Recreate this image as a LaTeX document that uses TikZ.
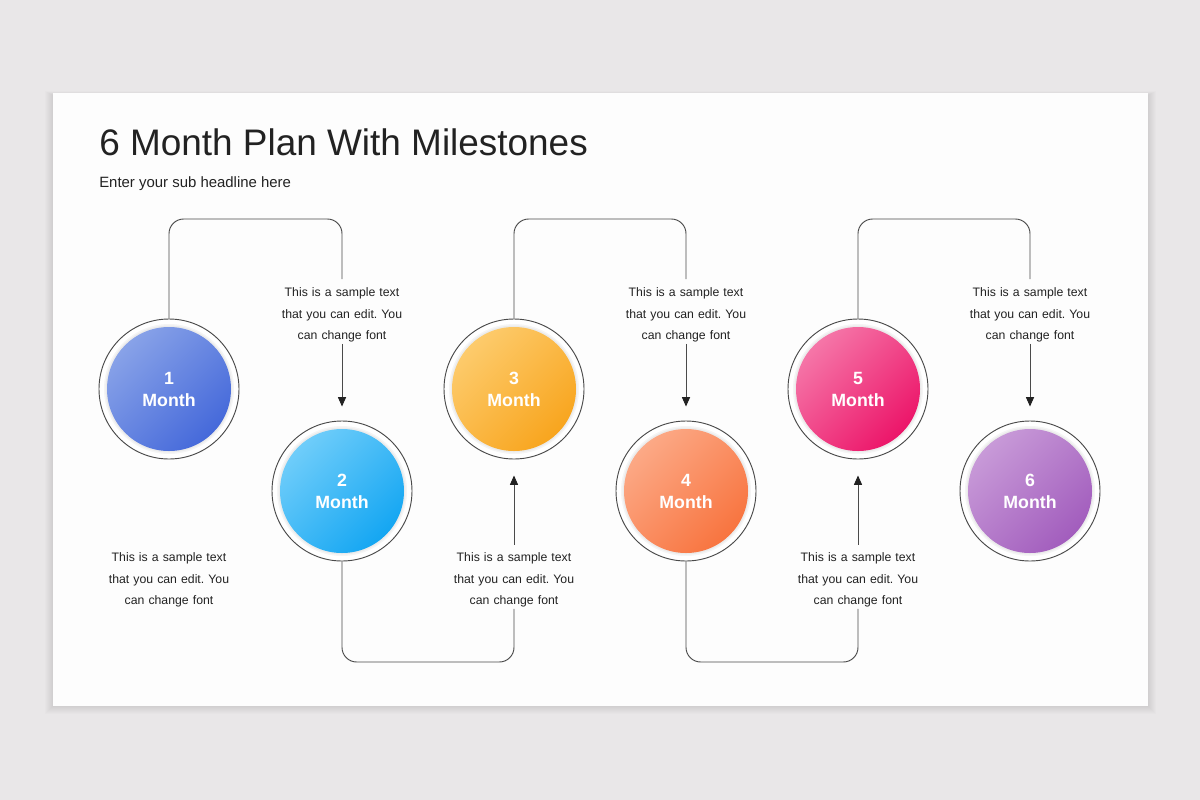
\documentclass[tikz,border=0pt]{standalone}
\usepackage{fontspec}
\setmainfont{Liberation Sans}
\frenchspacing
\usetikzlibrary{arrows.meta}
\definecolor{bgc}{HTML}{E9E7E8}
\definecolor{slidec}{HTML}{FDFDFD}
\definecolor{linec}{HTML}{4A4A4A}
\definecolor{txtc}{HTML}{222222}
\definecolor{aL}{HTML}{88A2E8}\definecolor{aD}{HTML}{4569DA}
\definecolor{bL}{HTML}{6FCDFA}\definecolor{bD}{HTML}{14A6F2}
\definecolor{cL}{HTML}{FDCB6C}\definecolor{cD}{HTML}{F8A51E}
\definecolor{dL}{HTML}{FCA986}\definecolor{dD}{HTML}{F8743F}
\definecolor{eL}{HTML}{F576A8}\definecolor{eD}{HTML}{EC1569}
\definecolor{fL}{HTML}{C89AD8}\definecolor{fD}{HTML}{A25DBD}
\tikzset{
  ring/.style={circle, draw=linec, line width=0.7pt, fill=white, minimum size=105pt, inner sep=0pt},
  body/.style={align=center, text width=150, font=\fontsize{9.2pt}{16.1pt}\selectfont, text=txtc, inner sep=1pt},
  lbl/.style={align=center, font=\fontsize{13.3pt}{16.5pt}\selectfont\bfseries, text=white},
  conn/.style={draw=linec, line width=0.7pt, rounded corners=11pt},
  arr/.style={draw=linec, line width=0.7pt, -{Triangle[length=7pt,width=6pt,color=txtc]}},
}
\newcommand{\milestone}[5]{%
  \node[ring] (#1) at (#2,#3) {};
  \fill[black, opacity=0.04] (#1.center) circle (65);
  \fill[black, opacity=0.04] (#1.center) circle (63.5);
  \shade[top color=#4L, bottom color=#4D, shading angle=45] (#1.center) circle (62);
  \node[lbl] (#1l) at (#1.center) {#5\\Month};
}
\begin{document}
\begin{tikzpicture}[x=0.75pt, y=-0.75pt]
\fill[bgc] (0,0) rectangle (1200,800);
\useasboundingbox (0,0) rectangle (1200,800);
\foreach \s in {1,...,8}{
  \fill[black, opacity=0.012] (53-\s,93-\s*0.5+2) rectangle (1148+\s,706+\s);
}
\node[fill=slidec, minimum width=1095*0.75pt, minimum height=613*0.75pt, inner sep=0pt, anchor=north west] (slide) at (53,93) {};
\node[anchor=base west, inner sep=0pt, font=\fontsize{27.7pt}{32pt}\selectfont, text=txtc] (title) at (99,155) {6 Month Plan With Milestones};
\node[anchor=base west, inner sep=0pt, font=\fontsize{11.2pt}{14pt}\selectfont, text=txtc] (sub) at (99,187) {Enter your sub headline here};

\milestone{c1}{169}{389}{a}{1}
\milestone{c2}{342}{491}{b}{2}
\milestone{c3}{514}{389}{c}{3}
\milestone{c4}{686}{491}{d}{4}
\milestone{c5}{858}{389}{e}{5}
\milestone{c6}{1030}{491}{f}{6}

\node[body] (t1) at (169,580) {This is a sample text\\that you can edit. You\\can change font};
\node[body] (t2) at (342,315) {This is a sample text\\that you can edit. You\\can change font};
\node[body] (t3) at (514,580) {This is a sample text\\that you can edit. You\\can change font};
\node[body] (t4) at (686,315) {This is a sample text\\that you can edit. You\\can change font};
\node[body] (t5) at (858,580) {This is a sample text\\that you can edit. You\\can change font};
\node[body] (t6) at (1030,315) {This is a sample text\\that you can edit. You\\can change font};

\coordinate (k1) at (169,219); \coordinate (k2) at (342,219);
\coordinate (k3) at (342,662); \coordinate (k4) at (514,662);
\coordinate (k5) at (514,219); \coordinate (k6) at (686,219);
\coordinate (k7) at (686,662); \coordinate (k8) at (858,662);
\coordinate (k9) at (858,219); \coordinate (k10) at (1030,219);

\draw[conn, shorten >=5.3pt] (c1.north) -- (k1) -- (k2) -- (t2.north);
\draw[arr, shorten >=10.5pt] (t2.south) -- (c2.north);
\draw[conn] (c2.south) -- (k3) -- (k4) -- (t3.south);
\draw[arr, shorten <=5pt, shorten >=12pt] (t3.north) -- (c3.south);
\draw[conn, shorten >=5.3pt] (c3.north) -- (k5) -- (k6) -- (t4.north);
\draw[arr, shorten >=10.5pt] (t4.south) -- (c4.north);
\draw[conn] (c4.south) -- (k7) -- (k8) -- (t5.south);
\draw[arr, shorten <=5pt, shorten >=12pt] (t5.north) -- (c5.south);
\draw[conn, shorten >=5.3pt] (c5.north) -- (k9) -- (k10) -- (t6.north);
\draw[arr, shorten >=10.5pt] (t6.south) -- (c6.north);
\end{tikzpicture}
\end{document}
